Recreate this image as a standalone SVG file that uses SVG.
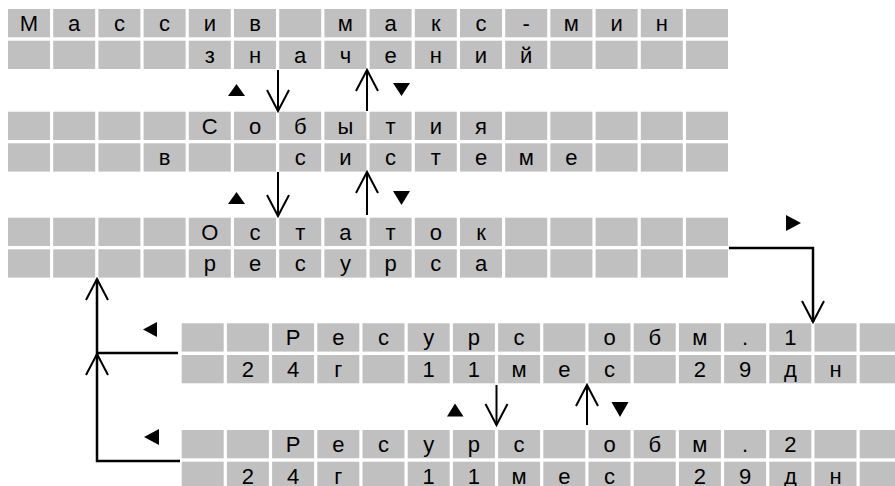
<svg xmlns="http://www.w3.org/2000/svg" xmlns:xlink="http://www.w3.org/1999/xlink" width="895" height="486" viewBox="0 0 895 486">
<style>
.cell{fill:#c0c0c0}
.t{font-family:"Liberation Sans",Arial,sans-serif;font-size:22px;fill:#000;text-anchor:middle}
.ln{fill:none;stroke:#000;stroke-width:2}
.cn{fill:none;stroke:#000;stroke-width:2.5}
.tri{fill:#000}
</style>
<defs>
<g id="cellrow">
<rect class="cell" x="0" y="0" width="42" height="28.3"/>
<rect class="cell" x="45.2" y="0" width="42" height="28.3"/>
<rect class="cell" x="90.4" y="0" width="42" height="28.3"/>
<rect class="cell" x="135.6" y="0" width="42" height="28.3"/>
<rect class="cell" x="180.8" y="0" width="42" height="28.3"/>
<rect class="cell" x="226" y="0" width="42" height="28.3"/>
<rect class="cell" x="271.2" y="0" width="42" height="28.3"/>
<rect class="cell" x="316.4" y="0" width="42" height="28.3"/>
<rect class="cell" x="361.6" y="0" width="42" height="28.3"/>
<rect class="cell" x="406.8" y="0" width="42" height="28.3"/>
<rect class="cell" x="452" y="0" width="42" height="28.3"/>
<rect class="cell" x="497.2" y="0" width="42" height="28.3"/>
<rect class="cell" x="542.4" y="0" width="42" height="28.3"/>
<rect class="cell" x="587.6" y="0" width="42" height="28.3"/>
<rect class="cell" x="632.8" y="0" width="42" height="28.3"/>
<rect class="cell" x="678" y="0" width="42" height="28.3"/>
</g>
<marker id="ah" markerUnits="userSpaceOnUse" viewBox="-23 -13 26 26" refX="0" refY="0" markerWidth="26" markerHeight="26" orient="auto" overflow="visible">
<path d="M-21,-11 L0,0 L-21,11" fill="none" stroke="#000" stroke-width="2"/>
</marker>
</defs>
<rect width="895" height="486" fill="#fff"/>

<g id="screen-massiv">
<use xlink:href="#cellrow" href="#cellrow" x="8" y="9"/>
<use xlink:href="#cellrow" href="#cellrow" x="8" y="40.7"/>
<text class="t" x="29 74.2 119.4 164.6 209.8 255" y="31">Массив</text>
<text class="t" x="345.4 390.6 435.8 481 526.2 571.4 616.6 661.8" y="31">макс-мин</text>
<text class="t" x="209.8 255 300.2 345.4 390.6 435.8 481 526.2" y="62.7">значений</text>
</g>

<g id="screen-sobytiya">
<use xlink:href="#cellrow" href="#cellrow" x="8" y="111.7"/>
<use xlink:href="#cellrow" href="#cellrow" x="8" y="143.3"/>
<text class="t" x="209.8 255 300.2 345.4 390.6 435.8 481" y="133.7">События</text>
<text class="t" x="164.6" y="165.3">в</text>
<text class="t" x="300.2 345.4 390.6 435.8 481 526.2 571.4" y="165.3">системе</text>
</g>

<g id="screen-ostatok">
<use xlink:href="#cellrow" href="#cellrow" x="8" y="217.7"/>
<use xlink:href="#cellrow" href="#cellrow" x="8" y="249.3"/>
<text class="t" x="209.8 255 300.2 345.4 390.6 435.8 481" y="239.7">Остаток</text>
<text class="t" x="209.8 255 300.2 345.4 390.6 435.8 481" y="271.3">ресурса</text>
</g>

<g id="screen-resurs1">
<use xlink:href="#cellrow" href="#cellrow" x="181.7" y="323.3"/>
<use xlink:href="#cellrow" href="#cellrow" x="181.7" y="355"/>
<text class="t" x="293.1 338.3 383.5 428.7 473.9 519.1" y="345.3">Ресурс</text>
<text class="t" x="609.5 654.7 699.9 745.1 790.3" y="345.3">обм.1</text>
<text class="t" x="247.9 293.1 338.3" y="377">24г</text>
<text class="t" x="428.7 473.9 519.1 564.3 609.5" y="377">11мес</text>
<text class="t" x="699.9 745.1 790.3 835.5" y="377">29дн</text>
</g>

<g id="screen-resurs2">
<use xlink:href="#cellrow" href="#cellrow" x="181.7" y="430"/>
<use xlink:href="#cellrow" href="#cellrow" x="181.7" y="461.7"/>
<text class="t" x="293.1 338.3 383.5 428.7 473.9 519.1" y="452">Ресурс</text>
<text class="t" x="609.5 654.7 699.9 745.1 790.3" y="452">обм.2</text>
<text class="t" x="247.9 293.1 338.3" y="483.7">24г</text>
<text class="t" x="428.7 473.9 519.1 564.3 609.5" y="483.7">11мес</text>
<text class="t" x="699.9 745.1 790.3 835.5" y="483.7">29дн</text>
</g>

<g id="connectors">
<line class="ln" x1="278" y1="70" x2="278" y2="111" marker-end="url(#ah)"/>
<line class="ln" x1="367" y1="111" x2="367" y2="70" marker-end="url(#ah)"/>
<polygon class="tri" points="228,96 245,96 236.5,84"/>
<polygon class="tri" points="393,83 410,83 401.5,96"/>

<line class="ln" x1="278" y1="172" x2="278" y2="216" marker-end="url(#ah)"/>
<line class="ln" x1="367" y1="215" x2="367" y2="172" marker-end="url(#ah)"/>
<polygon class="tri" points="228,204 245,204 236.5,192"/>
<polygon class="tri" points="393,191 410,191 401.5,205"/>

<polyline class="cn" points="729,248 813,248 813,322" marker-end="url(#ah)"/>
<polygon class="tri" points="786,215 786,231 801,223"/>

<polyline class="cn" points="178,353 97,353 97,279" marker-end="url(#ah)"/>
<polyline class="cn" points="180,461 97,461 97,354" marker-end="url(#ah)"/>
<polygon class="tri" points="157,322 157,337 143,329.5"/>
<polygon class="tri" points="159,429 159,445 144,437"/>

<line class="ln" x1="496.5" y1="385" x2="496.5" y2="425" marker-end="url(#ah)"/>
<line class="ln" x1="587" y1="425" x2="587" y2="385" marker-end="url(#ah)"/>
<polygon class="tri" points="447,416.5 463.5,416.5 455,403.5"/>
<polygon class="tri" points="611.5,402 628.5,402 620,417"/>
</g>
</svg>
